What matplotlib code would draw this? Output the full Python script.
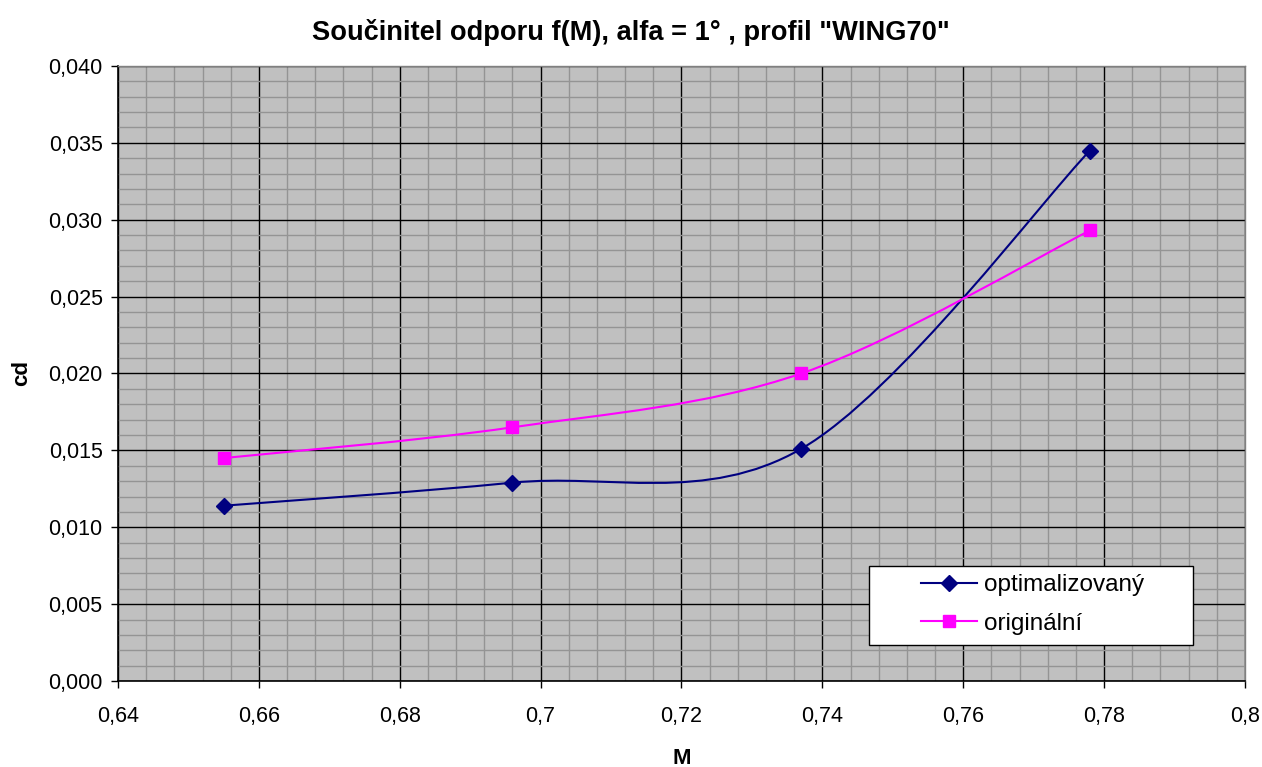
import matplotlib
matplotlib.use("Agg")
import matplotlib.pyplot as plt
from matplotlib.path import Path
from matplotlib.patches import PathPatch, Rectangle
from matplotlib.lines import Line2D
from matplotlib.ticker import MultipleLocator, FuncFormatter

plt.rcParams['font.family'] = ['Liberation Sans', 'DejaVu Sans']

# Mach numbers and drag coefficients
mach = [0.655, 0.696, 0.737, 0.778]
cd_opt = [0.0114, 0.0129, 0.0151, 0.0345]
cd_orig = [0.0145, 0.0165, 0.0200, 0.0293]

x_ticks = [0.64, 0.66, 0.68, 0.70, 0.72, 0.74, 0.76, 0.78, 0.80]
series_names = ['optimalizovaný', 'originální']
title = 'Součinitel odporu f(M), alfa = 1° , profil "WING70"'


def smooth_path(xs, ys):
    # Catmull-Rom style bezier through the points (spreadsheet "smoothed line")
    pts = list(zip(xs, ys))
    verts = [pts[0]]
    codes = [Path.MOVETO]
    n = len(pts)
    for i in range(n - 1):
        p0 = pts[i - 1] if i > 0 else pts[i]
        p1 = pts[i]
        p2 = pts[i + 1]
        p3 = pts[i + 2] if i + 2 < n else pts[i + 1]
        c1 = (p1[0] + (p2[0] - p0[0]) / 6, p1[1] + (p2[1] - p0[1]) / 6)
        c2 = (p2[0] - (p3[0] - p1[0]) / 6, p2[1] - (p3[1] - p1[1]) / 6)
        verts += [c1, c2, p2]
        codes += [Path.CURVE4] * 3
    return Path(verts, codes)


fig = plt.figure(figsize=(12.62, 7.67), dpi=100)
ax = fig.add_axes([0.0935, 0.1121, 0.893, 0.8019])
ax.set_facecolor('#c0c0c0')

ax.set_xlim(0.64, 0.80)
ax.set_ylim(0.0, 0.040)
ax.set_xticks(x_ticks)
ax.xaxis.set_minor_locator(MultipleLocator(0.004))
ax.yaxis.set_major_locator(MultipleLocator(0.005))
ax.yaxis.set_minor_locator(MultipleLocator(0.001))

ax.xaxis.set_major_formatter(FuncFormatter(lambda v, p: ('%g' % round(v, 2)).replace('.', ',')))
ax.yaxis.set_major_formatter(FuncFormatter(lambda v, p: ('%.3f' % v).replace('.', ',')))

ax.grid(which='minor', color='#949494', linewidth=1.0, zorder=0)
ax.grid(which='major', color='black', linewidth=1.0, zorder=0.5)
ax.set_axisbelow(True)

ax.tick_params(which='major', direction='out', length=5, width=1, labelsize=15.5)
ax.tick_params(which='minor', length=0)
ax.tick_params(axis='y', pad=6)
ax.tick_params(axis='x', pad=13)

for s in ['left', 'bottom']:
    ax.spines[s].set_color('black')
    ax.spines[s].set_linewidth(1.2)
for s in ['top', 'right']:
    ax.spines[s].set_color('#808080')
    ax.spines[s].set_linewidth(1.0)

for xs, ys, col in [(mach, cd_opt, '#000080'), (mach, cd_orig, '#ff00ff')]:
    ax.add_patch(PathPatch(smooth_path(xs, ys), facecolor='none', edgecolor=col,
                           linewidth=1.5, zorder=3))

ax.plot(mach, cd_opt, linestyle='none', marker='D', markersize=8.5,
        color='#000080', zorder=4)
ax.plot(mach, cd_orig, linestyle='none', marker='s', markersize=8,
        color='#ff00ff', zorder=4)

# legend box with wide left margin
ax.add_patch(Rectangle((0.6664, 0.0585), 0.2875, 0.1285, transform=ax.transAxes,
                       facecolor='white', edgecolor='black', linewidth=1.0,
                       zorder=5))
handles = [
    Line2D([], [], color='#000080', lw=1.5, marker='D', markersize=8.5),
    Line2D([], [], color='#ff00ff', lw=1.5, marker='s', markersize=8),
]
leg = ax.legend(handles, series_names, loc='upper left',
                bbox_to_anchor=(0.7125, 0.174), fontsize=17.5, frameon=False,
                borderpad=0, borderaxespad=0, handlelength=2.3,
                handletextpad=0.3, labelspacing=0.68)
leg.set_zorder(6)

fig.text(0.5, 0.957, title, ha='center', va='center', fontsize=19.6,
         fontweight='bold')
ax.set_xlabel('M', fontsize=16, fontweight='bold')
ax.xaxis.set_label_coords(0.5, -0.109)
ax.set_ylabel('cd', fontsize=16, fontweight='bold', labelpad=12)

fig.savefig('out.png', dpi=100)
